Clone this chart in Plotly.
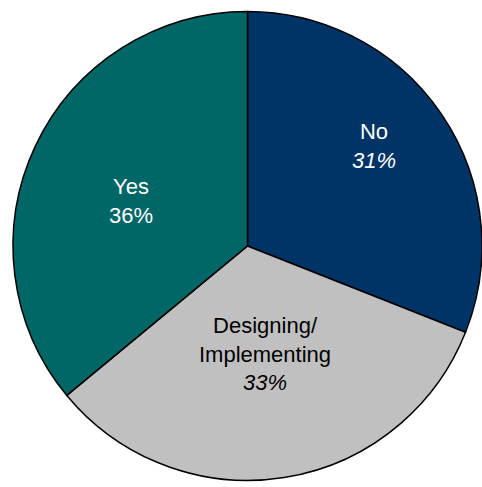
import math
import plotly.graph_objects as go

labels = ["No", "Designing/\nImplementing", "Yes"]
values = [31, 33, 36]
italic_pct = [True, True, False]
colors = ["#003366", "#C0C0C0", "#006666"]
text_colors = ["white", "black", "white"]
label_radius = [0.685, 0.468, 0.532]   # fraction of pie radius for each label
label_angle_shift = [-4.1, -0.3, -3.9]  # degrees relative to slice mid-angle

W, H = 482, 487
dom_x = [0.027, 1.0]
dom_y = [0.0, 0.99]

fig = go.Figure(go.Pie(
    labels=[l.replace("\n", " ") for l in labels],
    values=values,
    textinfo="none",
    sort=False,
    direction="clockwise",
    rotation=0,
    marker=dict(colors=colors, line=dict(color="black", width=1.5)),
    domain=dict(x=dom_x, y=dom_y),
    hoverinfo="label+percent",
))

# label positions derived from slice mid-angles
cx = (dom_x[0] + dom_x[1]) / 2 * W
cy = (dom_y[0] + dom_y[1]) / 2 * H
r = min((dom_x[1] - dom_x[0]) * W, (dom_y[1] - dom_y[0]) * H) / 2
total = sum(values)
cum = 0
for lab, v, it, tc, k, da in zip(labels, values, italic_pct, text_colors,
                                 label_radius, label_angle_shift):
    mid = (cum + v / 2) / total * 2 * math.pi + math.radians(da)
    cum += v
    px = cx + k * r * math.sin(mid)
    py = cy + k * r * math.cos(mid)
    pct = f"{v}%"
    if it:
        pct = f"<i>{pct}</i>"
    fig.add_annotation(
        x=px / W, y=py / H, xref="paper", yref="paper",
        text=lab.replace("\n", "<br>") + "<br>" + pct,
        showarrow=False, xanchor="center", yanchor="middle",
        font=dict(family="Liberation Sans, Arial, sans-serif", size=22, color=tc),
    )

fig.update_layout(
    width=W, height=H,
    margin=dict(l=0, r=0, t=0, b=0),
    showlegend=False,
    paper_bgcolor="white",
)
fig.write_html("out.html")
